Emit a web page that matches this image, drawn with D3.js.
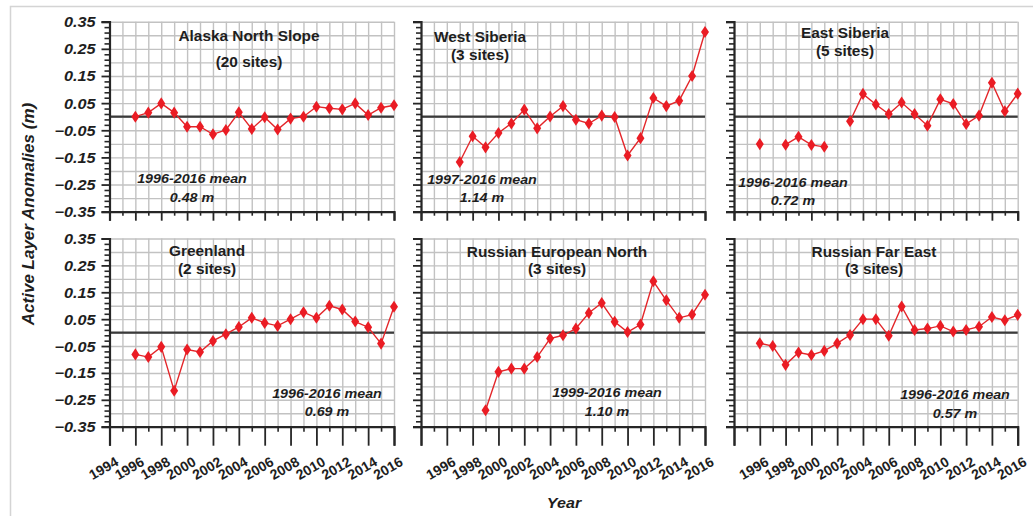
<!DOCTYPE html>
<html><head><meta charset="utf-8">
<script src="https://cdn.jsdelivr.net/npm/d3@7"></script>
<style>
body{margin:0;background:#fff}
svg{display:block;font-family:"Liberation Sans",Arial,Helvetica,sans-serif}
</style>
</head><body>
<svg id="chart" width="1033" height="516"></svg>
<script>
// ---------------- DATA ----------------
const years = [1996,1997,1998,1999,2000,2001,2002,2003,2004,2005,2006,2007,2008,2009,2010,2011,2012,2013,2014,2015,2016];
const axisYears = [1994,1995,1996,1997,1998,1999,2000,2001,2002,2003,2004,2005,2006,2007,2008,2009,2010,2011,2012,2013,2014,2015,2016];
const yTickLabels = [0.35,0.25,0.15,0.05,-0.05,-0.15,-0.25,-0.35];
const regionNames = ["Alaska North Slope","West Siberia","East Siberia","Greenland","Russian European North","Russian Far East"];
const siteCounts = ["(20 sites)","(3 sites)","(5 sites)","(2 sites)","(3 sites)","(3 sites)"];
const meanPeriods = ["1996-2016 mean","1997-2016 mean","1996-2016 mean","1996-2016 mean","1999-2016 mean","1996-2016 mean"];
const meanValues = ["0.48 m","1.14 m","0.72 m","0.69 m","1.10 m","0.57 m"];

const alaskaNorthSlope = [0.000,0.015,0.049,0.015,-0.037,-0.037,-0.065,-0.049,0.016,-0.045,-0.002,-0.047,-0.007,0.000,0.037,0.031,0.027,0.049,0.006,0.033,0.042];
const westSiberia = [null,-0.167,-0.072,-0.113,-0.060,-0.025,0.026,-0.043,0.001,0.039,-0.011,-0.025,0.004,-0.001,-0.143,-0.079,0.069,0.039,0.059,0.150,0.312];
const eastSiberia = [-0.101,null,-0.103,-0.074,-0.104,-0.111,null,-0.017,0.084,0.045,0.010,0.052,0.010,-0.033,0.064,0.047,-0.027,0.004,0.125,0.020,0.085];
const greenland = [-0.081,-0.091,-0.053,-0.216,-0.063,-0.072,-0.031,-0.006,0.021,0.055,0.036,0.025,0.050,0.076,0.055,0.100,0.086,0.041,0.020,-0.041,0.096];
const russianEuropeanNorth = [null,null,null,-0.289,-0.146,-0.134,-0.134,-0.091,-0.022,-0.010,0.015,0.073,0.110,0.040,0.002,0.030,0.191,0.120,0.055,0.067,0.141];
const russianFarEast = [-0.040,-0.050,-0.120,-0.074,-0.083,-0.068,-0.040,-0.009,0.050,0.050,-0.012,0.097,0.010,0.015,0.025,0.004,0.010,0.022,0.058,0.046,0.066];

const seriesList = [alaskaNorthSlope, westSiberia, eastSiberia, greenland, russianEuropeanNorth, russianFarEast];

// ---------------- LAYOUT ----------------
const colX = [[109.5,394],[421,705],[734,1017.7]];
const rowY = [[21.7,211.7],[238.5,426.7]];
const titlePos = [[249,41,67],[480,41.5,60],[845,38,56],[207,256,274],[557,257,274],[874,257,274]];
const meanPos = [[192,183,201.5],[482,184,201.5],[793,186.5,204.5],[327,397.5,415.5],[607,396.5,415.5],[955,398.5,417.5]];
const INK = "#262626";
const GRID = "#c2c2c2";

const svg = d3.select("#chart");
svg.append("rect").attr("x",10.5).attr("y",6.5).attr("width",1040).attr("height",540)
  .attr("fill","none").attr("stroke","#d4d4d4").attr("stroke-width",1.5);

function stext(g, x, y, str, opts){
  return g.append("text").attr("transform",`translate(${x},${y}) scale(${opts.sx},1)`)
    .attr("text-anchor","middle")
    .attr("font-size",opts.size)
    .attr("font-weight","bold")
    .attr("font-style",opts.style||"normal")
    .attr("fill","#1e1e1e")
    .text(str);
}

seriesList.forEach((vals, i) => {
  const col = i % 3, row = Math.floor(i / 3);
  const [x0,x1] = colX[col], [y0,y1] = rowY[row];
  const x = d3.scaleLinear().domain([1994,2016]).range([x0,x1]);
  const y = d3.scaleLinear().domain([-0.35,0.35]).range([y1,y0]);
  const g = svg.append("g");

  // grid via axes
  const hGrid = d3.range(-0.35,0.3501,0.05);
  const gh = g.append("g").attr("transform",`translate(${x0},0)`)
    .call(d3.axisRight(y).tickValues(hGrid).tickSize(x1-x0).tickFormat(""));
  gh.select(".domain").remove();
  gh.selectAll(".tick line").attr("stroke",GRID).attr("stroke-width",1.4);
  const gv = g.append("g").attr("transform",`translate(0,${y0})`)
    .call(d3.axisBottom(x).tickValues(axisYears).tickSize(y1-y0).tickFormat(""));
  gv.select(".domain").remove();
  gv.selectAll(".tick line").attr("stroke",GRID).attr("stroke-width",1.4);

  // zero line
  g.append("line").attr("x1",x0).attr("x2",x1).attr("y1",y(0)).attr("y2",y(0))
    .attr("stroke","#3a3a3a").attr("stroke-width",2.2);

  // y axis
  const yMinor = d3.range(-0.33,0.35,0.02).filter(v=>!yTickLabels.some(t=>Math.abs(t-v)<1e-6));
  const yg = g.append("g").attr("transform",`translate(${x0},0)`)
    .call(d3.axisLeft(y).tickValues(yTickLabels).tickSize(8).tickFormat(col===0 ? d3.format(".2f") : ""));
  yg.select(".domain").attr("stroke",INK).attr("stroke-width",2.2);
  yg.selectAll(".tick line").attr("stroke",INK).attr("stroke-width",1.8);
  yg.selectAll(".tick text")
    .attr("x",null).attr("dy",null)
    .attr("transform","translate(-14,5) scale(1.16,1)")
    .attr("font-size",14).attr("font-weight","bold").attr("font-style","italic")
    .attr("fill","#1e1e1e");
  const ym = g.append("g").attr("transform",`translate(${x0},0)`)
    .call(d3.axisLeft(y).tickValues(yMinor).tickSize(5).tickFormat(""));
  ym.select(".domain").remove();
  ym.selectAll(".tick line").attr("stroke",INK).attr("stroke-width",1.6);

  // x axis
  const longLen = row===0 ? 9 : 19, shortLen = row===0 ? 4 : 5;
  const evenYears = axisYears.filter(v=>v%2===0), oddYears = axisYears.filter(v=>v%2!==0);
  const xg = g.append("g").attr("transform",`translate(0,${y1})`)
    .call(d3.axisBottom(x).tickValues(evenYears).tickSize(longLen).tickFormat(""));
  xg.select(".domain").attr("stroke",INK).attr("stroke-width",2.2);
  xg.selectAll(".tick line").attr("stroke",INK).attr("stroke-width",1.8);
  const xm = g.append("g").attr("transform",`translate(0,${y1})`)
    .call(d3.axisBottom(x).tickValues(oddYears).tickSize(shortLen).tickFormat(""));
  xm.select(".domain").remove();
  xm.selectAll(".tick line").attr("stroke",INK).attr("stroke-width",1.6);

  if(row===1){
    const labYears = col===0 ? evenYears : evenYears.filter(v=>v>=1996);
    g.append("g").selectAll("text").data(labYears).join("text")
      .attr("transform",d=>`translate(${x(d)+10},${y1+38}) rotate(-30)`)
      .attr("text-anchor","end").attr("font-size",14).attr("font-weight","bold")
      .attr("fill","#1e1e1e").text(d=>d);
  }

  // series
  const pts = years.map((yr,k)=>({yr, v: vals[k]}));
  const line = d3.line().defined(d=>d.v!==null).x(d=>x(d.yr)).y(d=>y(d.v));
  g.append("path").datum(pts).attr("d",line).attr("fill","none")
    .attr("stroke","#e3262a").attr("stroke-width",1.4);
  const sym = d3.symbol().type(d3.symbolDiamond).size(42);
  g.append("g").selectAll("path").data(pts.filter(d=>d.v!==null)).join("path")
    .attr("d",sym).attr("transform",d=>`translate(${x(d.yr)},${y(d.v)}) scale(1.15,1)`)
    .attr("fill","#ea1c24");

  // titles
  const tp = titlePos[i];
  stext(g,tp[0],tp[1],regionNames[i],{size:14,sx:1.1});
  stext(g,tp[0],tp[2],siteCounts[i],{size:14,sx:1.1});
  const mp = meanPos[i];
  stext(g,mp[0],mp[1],meanPeriods[i],{size:13,style:"italic",sx:1.1});
  stext(g,mp[0],mp[2],meanValues[i],{size:13,style:"italic",sx:1.1});
});

// axis titles
svg.append("text").attr("transform","translate(33.5,214) rotate(-90)")
  .attr("text-anchor","middle").attr("font-size",17).attr("font-weight","bold").attr("font-style","italic")
  .attr("fill","#1e1e1e").text("Active Layer Anomalies (m)");
stext(svg,564,508,"Year",{size:14,style:"italic",sx:1.15});
</script>
</body></html>
